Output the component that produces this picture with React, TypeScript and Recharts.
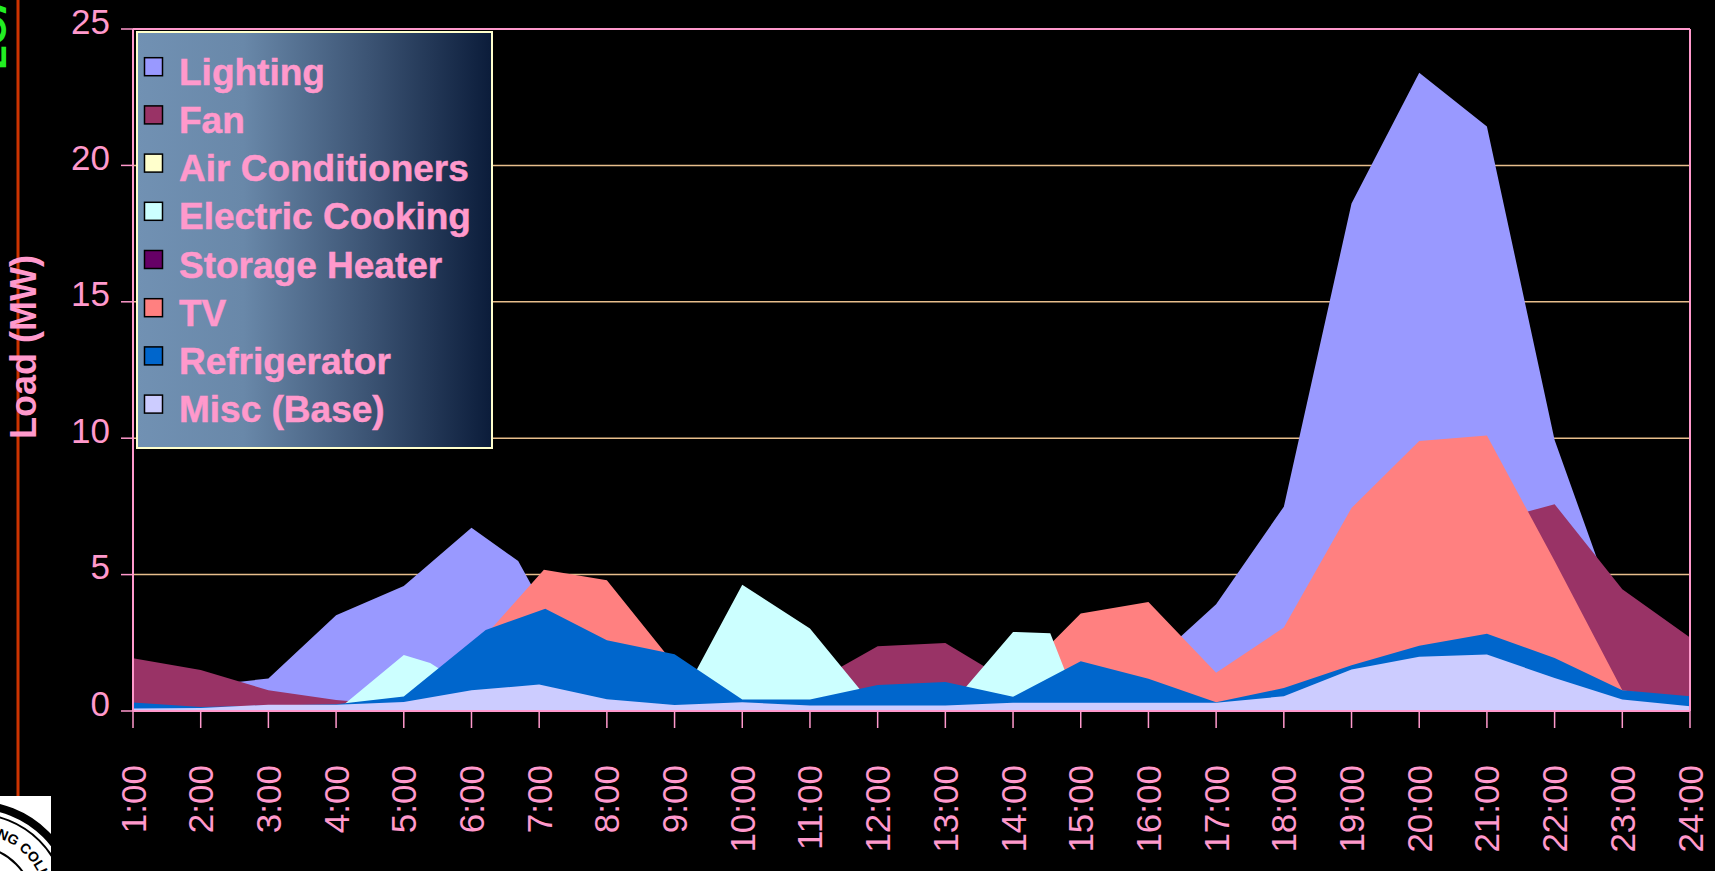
import React from 'react';
import { AreaChart, Area, XAxis, YAxis, CartesianGrid, ReferenceLine } from 'recharts';

// Hourly residential load by appliance (MW), overlapping areas on black

const W = 1715;
const H = 871;
const PINK = '#FF99CC';
const GRID = '#E8BE8C';
const FONT = 'Arial, "Liberation Sans", sans-serif';

const hours = [1, 2, 3, 4, 5, 6, 7, 8, 9, 10, 11, 12, 13, 14, 15, 16, 17, 18, 19, 20, 21, 22, 23, 24];
const hourLabels = [
  '1:00', '2:00', '3:00', '4:00', '5:00', '6:00', '7:00', '8:00', '9:00', '10:00', '11:00', '12:00',
  '13:00', '14:00', '15:00', '16:00', '17:00', '18:00', '19:00', '20:00', '21:00', '22:00', '23:00', '24:00',
];
const loadTicks = [0, 5, 10, 15, 20, 25];

// one value per hour; null where the corner sits between hours (see *Extra)
const lighting = [0.9, 0.92, 1.19, 3.51, 4.58, 6.72, 4.1, 0.2, 0.2, 0.2, 0.2, 0.2, 0.2, 0.2, 0.2, 1.65, 3.91, 7.49, 18.6, 23.4, 21.43, 9.93, 3.0, 1.5];
const lightingExtra: [number, number][] = [[6.69, 5.5]];

const fan = [1.93, 1.5, 0.76, 0.4, 0.2, 0.3, 0.3, 0.3, 0.3, 0.5, 0.97, 2.37, 2.49, 1.0, 0.5, 0.5, 0.8, 1.5, 3.5, 5.5, 6.9, 7.58, 4.46, 2.69];

const airCon = [0, 0, 0, 0, 0, 0, 0, 0, 0, 0, 0, 0, 0, 0, 0, 0, 0, 0, 0, 0, 0, 0, 0, 0];

const cooking = [0, 0, 0, 0, 2.05, 0.8, 0.5, 0.3, 0, 4.63, 3.02, 0, 0, 2.9, 0, 0, 0, 0, 0, 0, 0, 0, 0, 0];
const cookingExtra: [number, number][] = [[5.39, 1.76], [14.55, 2.85]];

const heater = [0, 0, 0, 0, 0, 0, 0, 0, 0, 0, 0, 0, 0, 0, 0, 0, 0, 0, 0, 0, 0, 0, 0, 0];

const tv = [0.1, 0.1, 0.1, 0.1, 0.3, 2.2, null, 4.79, 1.7, 0.4, 0.3, 0.3, 0.5, 1.07, 3.57, 4.0, 1.4, 3.06, 7.44, 9.9, 10.1, 5.5, 0.76, 0.4];
const tvExtra: [number, number][] = [[7.07, 5.18]];

const fridge = [0.31, 0.15, 0.2, 0.25, 0.53, null, null, 2.59, 2.08, 0.42, 0.42, 0.95, 1.06, 0.52, 1.82, 1.18, 0.32, 0.84, 1.68, 2.39, 2.83, 1.94, 0.76, 0.54];
const fridgeExtra: [number, number][] = [[6.21, 2.97], [7.09, 3.75]];

const misc = [0.09, 0.11, 0.23, 0.23, 0.33, 0.76, 0.97, 0.43, 0.22, 0.32, 0.2, 0.2, 0.2, 0.3, 0.3, 0.3, 0.3, 0.54, 1.52, 1.99, 2.07, 1.21, 0.42, 0.17];

type Series = {
  key: string;
  name: string;
  color: string;
  hourly: (number | null)[];
  extra: [number, number][];
};

// legend order
const series: Series[] = [
  { key: 'lighting', name: 'Lighting', color: '#9999FF', hourly: lighting, extra: lightingExtra },
  { key: 'fan', name: 'Fan', color: '#993366', hourly: fan, extra: [] },
  { key: 'airCon', name: 'Air Conditioners', color: '#FFFFCC', hourly: airCon, extra: [] },
  { key: 'cooking', name: 'Electric Cooking', color: '#CCFFFF', hourly: cooking, extra: cookingExtra },
  { key: 'heater', name: 'Storage Heater', color: '#660066', hourly: heater, extra: [] },
  { key: 'tv', name: 'TV', color: '#FF8080', hourly: tv, extra: tvExtra },
  { key: 'fridge', name: 'Refrigerator', color: '#0066CC', hourly: fridge, extra: fridgeExtra },
  { key: 'misc', name: 'Misc (Base)', color: '#CCCCFF', hourly: misc, extra: [] },
];

// back to front
const drawOrder = ['lighting', 'fan', 'airCon', 'heater', 'tv', 'cooking', 'fridge', 'misc'];

const pointsOf = (s: Series): [number, number][] => {
  const pts: [number, number][] = [];
  s.hourly.forEach((v, i) => {
    if (v !== null) pts.push([hours[i], v]);
  });
  return pts.concat(s.extra);
};

const xs = Array.from(new Set(series.flatMap((s) => pointsOf(s).map((p) => p[0])))).sort((a, b) => a - b);

const rows = xs.map((h) => {
  const row: Record<string, number | null> = { h };
  series.forEach((s) => {
    const hit = pointsOf(s).find((p) => p[0] === h);
    row[s.key] = hit ? hit[1] : null;
  });
  return row;
});

const HourTick = (props: any) => {
  const { x, payload } = props;
  const i = hours.indexOf(payload.value);
  const bx = x + 12.5;
  return (
    <text
      x={bx}
      y={765}
      transform={`rotate(-90, ${bx}, 765)`}
      textAnchor="end"
      fill={PINK}
      fontSize={35}
      fontFamily={FONT}
    >
      {hourLabels[i]}
    </text>
  );
};

const LoadTick = (props: any) => {
  const { y, payload } = props;
  return (
    <text x={110} y={y + 4.5} textAnchor="end" fill={PINK} fontSize={35} fontFamily={FONT}>
      {payload.value}
    </text>
  );
};

const Legend = () => {
  const left = 137;
  const top = 32;
  const w = 355;
  const h = 416;
  return (
    <g>
      <defs>
        <linearGradient id="legendFill" x1="0" y1="0" x2="1" y2="0">
          <stop offset="0%" stopColor="#7191B3" />
          <stop offset="30%" stopColor="#6988A9" />
          <stop offset="65%" stopColor="#3C5474" />
          <stop offset="100%" stopColor="#0B1C3A" />
        </linearGradient>
      </defs>
      <rect x={left} y={top} width={w} height={h} fill="url(#legendFill)" stroke="#FFFFCC" strokeWidth={2} />
      {series.map((s, i) => {
        const cy = 66.7 + 48.2 * i;
        return (
          <g key={s.key}>
            <rect x={144.5} y={cy - 9} width={18} height={18} fill={s.color} stroke="#000" strokeWidth={1.5} />
            <text
              x={179}
              y={cy + 18}
              fill={PINK}
              stroke={PINK}
              strokeWidth={0.5}
              fontSize={37}
              fontWeight="bold"
              fontFamily={FONT}
            >
              {s.name}
            </text>
          </g>
        );
      })}
    </g>
  );
};

const SEAL_CX = -25;
const SEAL_CY = 905;
const SEAL_TEXT_R = 71;

const Decorations = () => (
  <g>
    {/* slide edge pieces */}
    <line x1={18} y1={0} x2={18} y2={796} stroke="#CC3300" strokeWidth={3} />
    <text
      x={6}
      y={70}
      transform="rotate(-90, 6, 70)"
      fill="#22EE22"
      fontSize={40}
      fontWeight="bold"
      fontFamily={FONT}
    >
      LOAD CURVE
    </text>
    <defs>
      <clipPath id="sealClip">
        <rect x={0} y={796} width={51} height={75} />
      </clipPath>
      <path
        id="sealArc"
        d={`M ${SEAL_CX - SEAL_TEXT_R} ${SEAL_CY} a ${SEAL_TEXT_R} ${SEAL_TEXT_R} 0 1 1 ${2 * SEAL_TEXT_R} 0 a ${SEAL_TEXT_R} ${SEAL_TEXT_R} 0 1 1 ${-2 * SEAL_TEXT_R} 0`}
      />
    </defs>
    <g clipPath="url(#sealClip)">
      <rect x={0} y={796} width={51} height={75} fill="#FFFFFF" />
      <circle cx={SEAL_CX} cy={SEAL_CY} r={100} fill="none" stroke="#000" strokeWidth={8} />
      <circle cx={SEAL_CX} cy={SEAL_CY} r={91} fill="none" stroke="#000" strokeWidth={2} />
      <circle cx={SEAL_CX} cy={SEAL_CY} r={58} fill="none" stroke="#000" strokeWidth={2} />
      <text fontSize={14} fontWeight="bold" fontFamily={FONT} fill="#000">
        <textPath href="#sealArc" startOffset={56}>
          ENGINEERING COLLEGE
        </textPath>
      </text>
    </g>
    {/* y axis title */}
    <text
      x={36}
      y={347}
      transform="rotate(-90, 36, 347)"
      textAnchor="middle"
      fill={PINK}
      fontSize={36}
      fontWeight="bold"
      fontFamily={FONT}
    >
      Load (MW)
    </text>
  </g>
);

export default function App() {
  return (
    <div style={{ position: 'fixed', left: 0, top: 0, width: W, height: H, background: '#000', overflow: 'hidden' }}>
      <AreaChart
        width={W}
        height={H}
        data={rows}
        margin={{ top: 29, right: 25, bottom: 20, left: 0 }}
        style={{ position: 'absolute', left: 0, top: 0 }}
      >
        <CartesianGrid vertical={false} stroke={GRID} strokeWidth={1.5} />
        <XAxis
          dataKey="h"
          type="number"
          domain={[1, 24]}
          ticks={hours}
          interval={0}
          height={140}
          tickSize={17}
          axisLine={{ stroke: PINK, strokeWidth: 2 }}
          tickLine={{ stroke: PINK, strokeWidth: 1.5 }}
          tick={<HourTick />}
        />
        <YAxis
          type="number"
          domain={[0, 25]}
          ticks={loadTicks}
          interval={0}
          width={133}
          tickSize={12}
          axisLine={{ stroke: PINK, strokeWidth: 2 }}
          tickLine={{ stroke: PINK, strokeWidth: 1.5 }}
          tick={<LoadTick />}
        />
        {drawOrder.map((k) => {
          const s = series.find((q) => q.key === k)!;
          return (
            <Area
              key={k}
              type="linear"
              dataKey={k}
              name={s.name}
              stroke="none"
              fill={s.color}
              fillOpacity={1}
              connectNulls
              dot={false}
              activeDot={false}
              isAnimationActive={false}
            />
          );
        })}
        <ReferenceLine y={25} stroke={PINK} strokeWidth={2} />
        <ReferenceLine x={24} stroke={PINK} strokeWidth={2} />
      </AreaChart>
      <svg width={W} height={H} style={{ position: 'absolute', left: 0, top: 0, pointerEvents: 'none' }}>
        <Decorations />
        <Legend />
      </svg>
    </div>
  );
}
